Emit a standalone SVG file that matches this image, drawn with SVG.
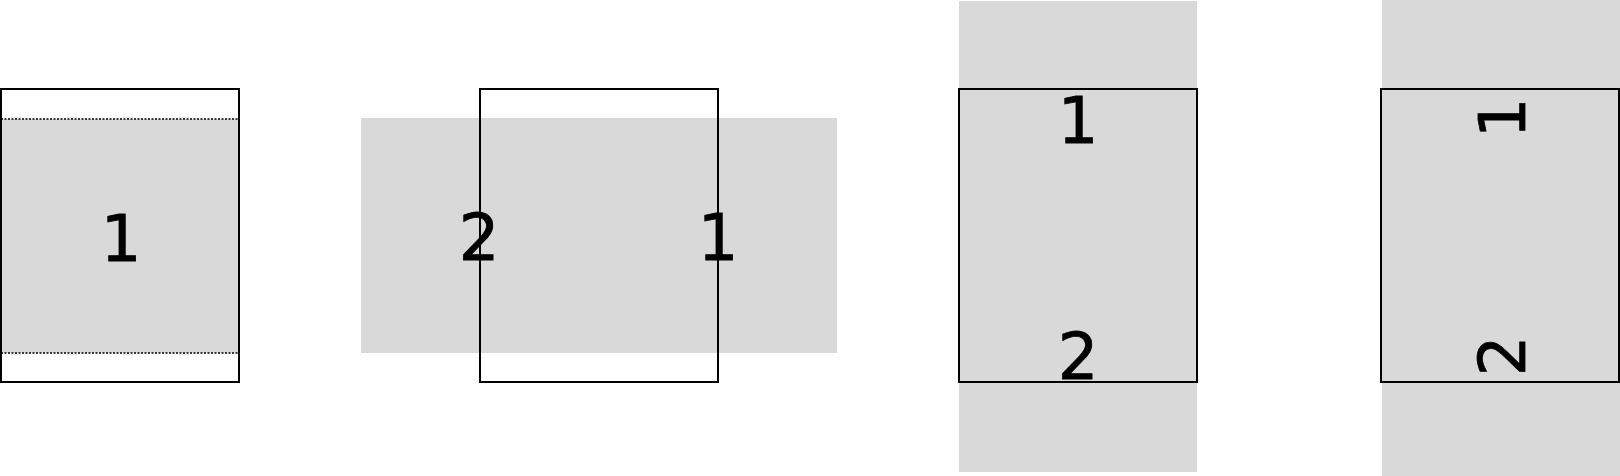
<svg xmlns="http://www.w3.org/2000/svg" width="1620" height="476" viewBox="0 0 1620 476">
<style>
.band{fill:#d9d9d9;stroke:none}
.frame{fill:none;stroke:#000;stroke-width:2}
.dot{stroke:#000;stroke-width:1.5;stroke-dasharray:2 1.5;fill:none}
.num{font-family:"DejaVu Sans","Liberation Sans",sans-serif;font-size:64px;fill:#000;stroke:#000;stroke-width:0.8;text-anchor:middle}
</style>
<rect width="1620" height="476" fill="#fff"/>
<g id="panel1">
<rect class="band" x="1" y="119" width="238" height="234"/>
<line class="dot" x1="1" y1="119" x2="239" y2="119"/>
<line class="dot" x1="1" y1="353" x2="239" y2="353"/>
<rect class="frame" x="1" y="89" width="238" height="293"/>
<text class="num" x="121" y="261">1</text>
</g>
<g id="panel2">
<rect class="band" x="361" y="118" width="476" height="235"/>
<rect class="frame" x="480" y="89" width="238" height="293"/>
<text class="num" x="479" y="260">2</text>
<text class="num" x="718" y="260">1</text>
</g>
<g id="panel3">
<rect class="band" x="959" y="1" width="238" height="471"/>
<rect class="frame" x="959" y="89" width="238" height="293"/>
<text class="num" x="1078" y="143">1</text>
<text class="num" x="1078" y="379">2</text>
</g>
<g id="panel4">
<rect class="band" x="1382" y="0" width="238" height="476"/>
<rect class="frame" x="1381" y="89" width="238" height="293"/>
<text class="num" transform="translate(1525 118) rotate(-90)">1</text>
<text class="num" transform="translate(1525 356) rotate(-90)">2</text>
</g>
</svg>
